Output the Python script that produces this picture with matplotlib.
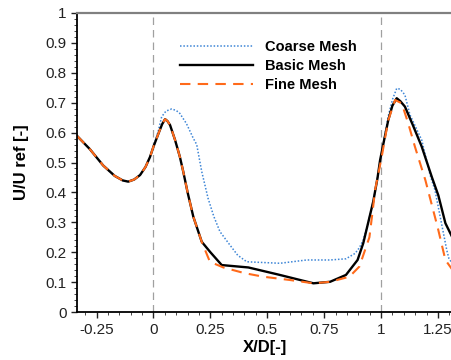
import matplotlib
matplotlib.use("Agg")
import matplotlib.pyplot as plt
from matplotlib.ticker import AutoMinorLocator, FuncFormatter

plt.rcParams['font.family'] = ['Liberation Sans', 'DejaVu Sans']

# shared upstream part (all three meshes agree here)
left_x = [-0.336, -0.28, -0.221, -0.17, -0.135, -0.111, -0.085, -0.059, -0.035, -0.015, 0.0]
left_y = [0.589, 0.545, 0.49, 0.455, 0.44, 0.436, 0.443, 0.458, 0.485, 0.519, 0.553]

# Basic mesh (black solid)
basic_x = left_x + [0.021, 0.038, 0.051, 0.062, 0.073, 0.095, 0.116, 0.131, 0.15, 0.175, 0.19,
                    0.212, 0.25, 0.30, 0.417, 0.55, 0.703, 0.776, 0.846, 0.897, 0.922, 0.944,
                    0.966, 0.985, 0.996, 1.015, 1.032, 1.05, 1.069, 1.085, 1.105, 1.14, 1.179,
                    1.224, 1.252, 1.283, 1.312]
basic_y = left_y + [0.595, 0.628, 0.645, 0.638, 0.625, 0.575, 0.519, 0.469, 0.40, 0.319, 0.285,
                    0.235, 0.20, 0.157, 0.149, 0.125, 0.096, 0.101, 0.124, 0.174, 0.23, 0.30,
                    0.37, 0.45, 0.508, 0.58, 0.642, 0.69, 0.715, 0.705, 0.687, 0.625, 0.553,
                    0.45, 0.39, 0.297, 0.252]

# Fine mesh (orange dashed)
fine_x = left_x + [0.021, 0.038, 0.051, 0.062, 0.073, 0.095, 0.116, 0.131, 0.15, 0.175, 0.19,
                   0.212, 0.248, 0.307, 0.40, 0.483, 0.60, 0.703, 0.776, 0.861, 0.905, 0.922,
                   0.949, 0.962, 0.974, 1.003, 1.032, 1.062, 1.091, 1.12, 1.149, 1.195, 1.25,
                   1.283, 1.315]
fine_y = left_y + [0.595, 0.628, 0.645, 0.638, 0.625, 0.575, 0.519, 0.469, 0.40, 0.319, 0.285,
                   0.235, 0.168, 0.149, 0.13, 0.118, 0.107, 0.096, 0.101, 0.118, 0.152, 0.19,
                   0.25, 0.33, 0.408, 0.519, 0.642, 0.709, 0.698, 0.63, 0.553, 0.441, 0.28,
                   0.174, 0.14]

# Coarse mesh (blue dotted)
coarse_x = left_x + [0.021, 0.036, 0.055, 0.08, 0.1, 0.116, 0.145, 0.175, 0.19, 0.212, 0.24,
                     0.265, 0.292, 0.33, 0.37, 0.41, 0.556, 0.673, 0.776, 0.846, 0.886, 0.905,
                     0.922, 0.944, 0.966, 0.985, 1.0, 1.032, 1.05, 1.069, 1.085, 1.105, 1.127,
                     1.179, 1.215, 1.237, 1.289, 1.298, 1.315]
coarse_y = left_y + [0.605, 0.653, 0.672, 0.679, 0.674, 0.664, 0.63, 0.581, 0.56, 0.47, 0.38,
                     0.32, 0.269, 0.23, 0.19, 0.168, 0.163, 0.174, 0.174, 0.178, 0.196, 0.215,
                     0.241, 0.30, 0.37, 0.45, 0.52, 0.655, 0.71, 0.748, 0.745, 0.726, 0.66,
                     0.575, 0.46, 0.408, 0.207, 0.18, 0.16]

fig = plt.figure(figsize=(4.52, 3.6), dpi=100)
ax = fig.add_axes([0.1704, 0.1333, 0.8296, 0.8306])

ax.axvline(0, color='#a0a0a0', lw=0.9, ls=(0, (6, 4)))
ax.axvline(1, color='#a0a0a0', lw=0.9, ls=(0, (6, 4)))

ax.plot(coarse_x, coarse_y, color='#3d85d6', lw=1.1, ls=(0, (1, 1.2)), label='Coarse Mesh')
ax.plot(basic_x, basic_y, color='black', lw=1.7, label='Basic Mesh')
ax.plot(fine_x, fine_y, color='#ff6a1a', lw=1.5, ls=(0, (5, 3.5)), label='Fine Mesh')

ax.set_xlim(-0.336, 1.312)
ax.set_ylim(0, 1)
ax.set_xticks([-0.25, 0, 0.25, 0.5, 0.75, 1, 1.25])
ax.set_yticks([0, 0.1, 0.2, 0.3, 0.4, 0.5, 0.6, 0.7, 0.8, 0.9, 1])
ax.xaxis.set_major_formatter(FuncFormatter(lambda v, p: '%g' % v))
ax.yaxis.set_major_formatter(FuncFormatter(lambda v, p: '%g' % v))
ax.xaxis.set_minor_locator(AutoMinorLocator(5))
ax.yaxis.set_minor_locator(AutoMinorLocator(5))
ax.tick_params(which='major', direction='out', length=4, width=1, labelsize=11, colors='#222222')
ax.tick_params(which='minor', direction='out', length=2, width=0.7, colors='#444444')
ax.tick_params(axis='x', pad=4)

ax.spines['right'].set_visible(False)
ax.spines['top'].set_color('#808080')
ax.spines['top'].set_linewidth(1.6)
ax.spines['left'].set_linewidth(1.3)
ax.spines['bottom'].set_linewidth(1.3)

ax.set_xlabel('X/D[-]', fontsize=12, fontweight='bold', labelpad=2)
ax.set_ylabel('U/U ref [-]', fontsize=12, fontweight='bold', labelpad=12)

leg = ax.legend(loc='upper left', bbox_to_anchor=(0.26, 0.93), frameon=False,
                prop={'weight': 'bold', 'size': 10.5}, handlelength=5.0,
                handletextpad=0.8, labelspacing=0.35, borderaxespad=0)

fig.savefig('out.png', dpi=100)
